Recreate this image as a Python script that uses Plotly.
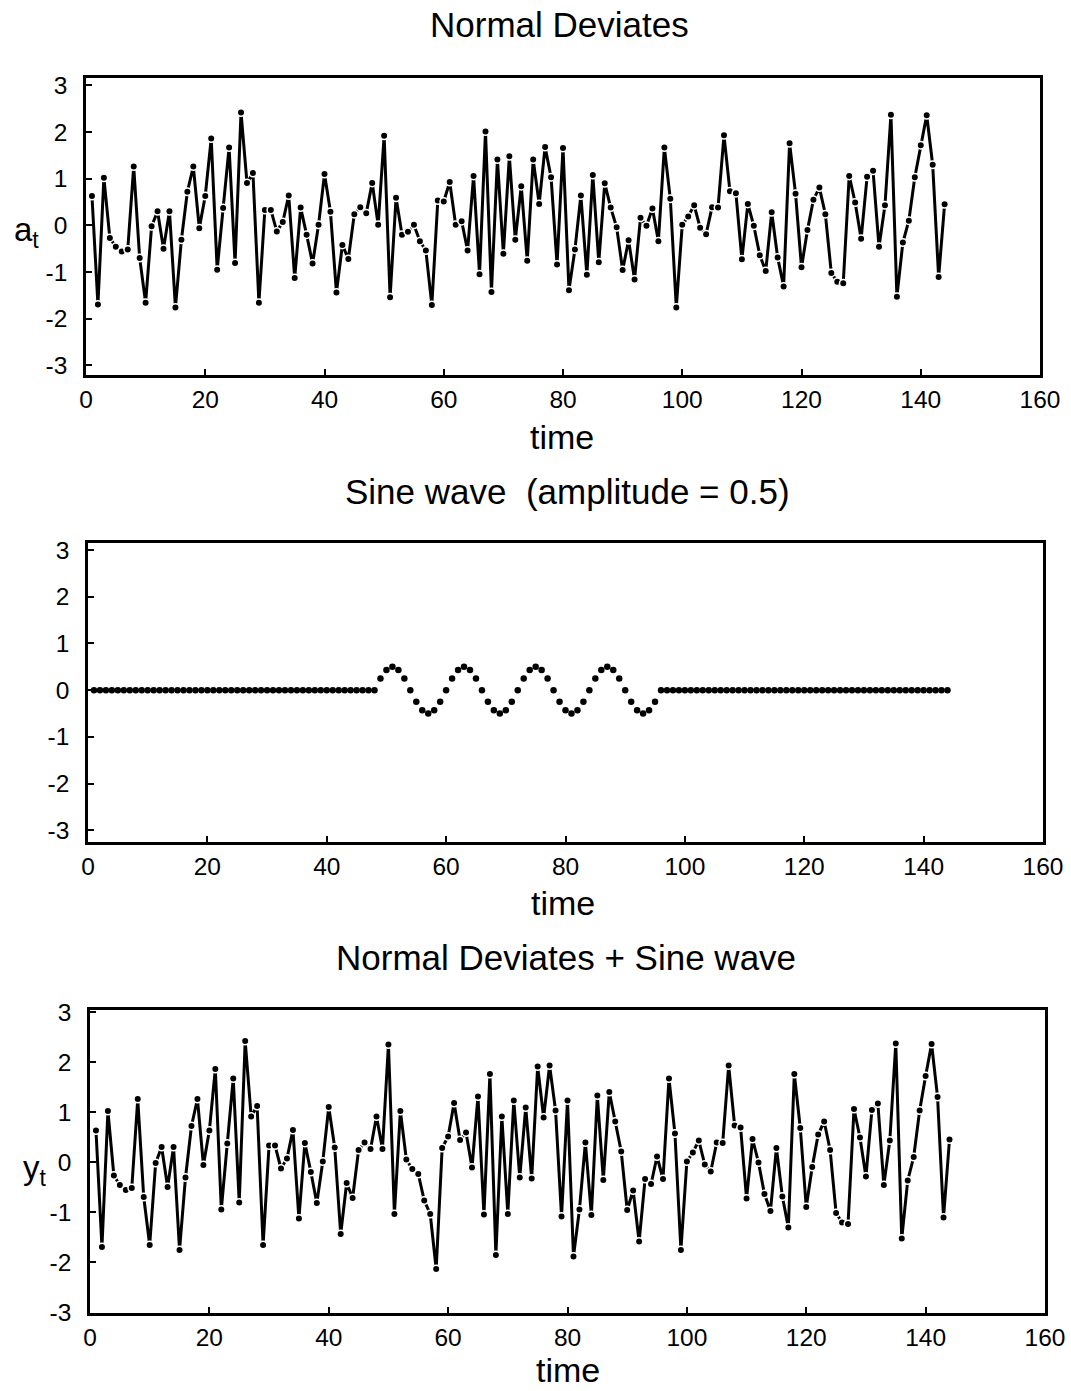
import plotly.graph_objects as go

time = list(range(1, 145))

normal_deviates = [
    0.63, -1.70, 1.02, -0.27, -0.46, -0.56, -0.52, 1.26, -0.70, -1.66,
    -0.02, 0.30, -0.50, 0.30, -1.76, -0.31, 0.72, 1.26, -0.06, 0.63,
    1.86, -0.95, 0.37, 1.67, -0.81, 2.42, 0.91, 1.12, -1.66, 0.33,
    0.33, -0.13, 0.07, 0.64, -1.13, 0.38, -0.20, -0.82, 0.01, 1.10,
    0.29, -1.44, -0.42, -0.72, 0.24, 0.39, 0.26, 0.91, 0.01, 1.92,
    -1.54, 0.59, -0.20, -0.14, 0.01, -0.34, -0.54, -1.71, 0.53, 0.51,
    0.93, 0.01, 0.09, -0.54, 1.06, -1.05, 2.01, -1.43, 1.41, -0.61,
    1.48, -0.31, 0.84, -0.76, 1.41, 0.46, 1.68, 1.03, -0.84, 1.66,
    -1.39, -0.52, 0.64, -1.06, 1.08, -0.79, 0.90, 0.38, -0.04, -0.96,
    -0.32, -1.16, 0.16, -0.01, 0.36, -0.34, 1.67, 0.57, -1.76, 0.01,
    0.19, 0.43, -0.05, -0.19, 0.39, 0.38, 1.93, 0.73, 0.69, -0.73,
    0.46, -0.01, -0.64, -0.98, 0.28, -0.69, -1.31, 1.76, 0.68, -0.90,
    -0.10, 0.55, 0.81, 0.24, -1.02, -1.21, -1.24, 1.06, 0.49, -0.29,
    1.04, 1.17, -0.46, 0.43, 2.37, -1.53, -0.37, 0.10, 1.03, 1.72,
    2.36, 1.30, -1.11, 0.45,
]

sine_wave = [
    0, 0, 0, 0, 0, 0, 0, 0, 0, 0, 0, 0,
    0, 0, 0, 0, 0, 0, 0, 0, 0, 0, 0, 0,
    0, 0, 0, 0, 0, 0, 0, 0, 0, 0, 0, 0,
    0, 0, 0, 0, 0, 0, 0, 0, 0, 0, 0, 0,
    0.25, 0.43, 0.5, 0.43, 0.25, 0, -0.25, -0.43, -0.5, -0.43, -0.25, 0,
    0.25, 0.43, 0.5, 0.43, 0.25, 0, -0.25, -0.43, -0.5, -0.43, -0.25, 0,
    0.25, 0.43, 0.5, 0.43, 0.25, 0, -0.25, -0.43, -0.5, -0.43, -0.25, 0,
    0.25, 0.43, 0.5, 0.43, 0.25, 0, -0.25, -0.43, -0.5, -0.43, -0.25, 0,
    0, 0, 0, 0, 0, 0, 0, 0, 0, 0, 0, 0,
    0, 0, 0, 0, 0, 0, 0, 0, 0, 0, 0, 0,
    0, 0, 0, 0, 0, 0, 0, 0, 0, 0, 0, 0,
    0, 0, 0, 0, 0, 0, 0, 0, 0, 0, 0, 0,
]

combined = [a + s for a, s in zip(normal_deviates, sine_wave)]

panel_titles = ["Normal Deviates", "Sine wave  (amplitude = 0.5)", "Normal Deviates + Sine wave"]
x_tickvals = [0, 20, 40, 60, 80, 100, 120, 140, 160]
x_ticktext = ["0", "20", "40", "60", "80", "100", "120", "140", "160"]
y_tickvals = [-3, -2, -1, 0, 1, 2, 3]
y_ticktext = ["-3", "-2", "-1", "0", "1", "2", "3"]

W, H = 1071, 1391
FONT = "Liberation Sans, Arial, Helvetica, sans-serif"

# panel frames in pixels: (left, right, top, bottom)
frames = [(86, 1040, 78, 375), (88, 1043, 543, 842), (90, 1045, 1010, 1313)]
yranges = [[-3.21, 3.16], [-3.25, 3.15], [-3.02, 3.04]]


def px_x(p):
    return p / W


def px_y(p):
    return 1 - p / H


fig = go.Figure()

marker_common = dict(color="black", size=7.5, line=dict(color="white", width=1.5))

fig.add_trace(go.Scatter(x=time, y=normal_deviates, mode="lines+markers",
                         line=dict(color="black", width=3), marker=marker_common,
                         xaxis="x", yaxis="y", showlegend=False))
fig.add_trace(go.Scatter(x=time, y=sine_wave, mode="markers",
                         marker=dict(color="black", size=6.5),
                         xaxis="x2", yaxis="y2", showlegend=False))
fig.add_trace(go.Scatter(x=time, y=combined, mode="lines+markers",
                         line=dict(color="black", width=3), marker=marker_common,
                         xaxis="x3", yaxis="y3", showlegend=False))

axis_font = dict(family=FONT, size=24.5, color="black")
for i, (l, r, t, b) in enumerate(frames):
    sfx = "" if i == 0 else str(i + 1)
    fig.layout["xaxis" + sfx] = dict(
        domain=[px_x(l), px_x(r)], range=[0, 160], anchor="y" + sfx,
        tickvals=x_tickvals, ticktext=x_ticktext, ticks="inside", ticklen=6,
        tickwidth=2, tickcolor="black", showline=True, linecolor="black",
        linewidth=2.5, mirror=True, showgrid=False, zeroline=False,
        tickfont=axis_font, ticklabelstandoff=1, automargin=False,
    )
    fig.layout["yaxis" + sfx] = dict(
        domain=[px_y(b), px_y(t)], range=yranges[i], anchor="x" + sfx,
        tickvals=y_tickvals, ticktext=y_ticktext, ticks="inside", ticklen=6,
        tickwidth=2, tickcolor="black", showline=True, linecolor="black",
        linewidth=2.5, mirror=True, showgrid=False, zeroline=False,
        tickfont=axis_font, ticklabelstandoff=11, automargin=False,
    )

annotations = []
title_y = [25, 491, 957]
title_x = [559, 567, 566]
for txt, ty, tx in zip(panel_titles, title_y, title_x):
    annotations.append(dict(text=txt, x=px_x(tx), y=px_y(ty), xref="paper", yref="paper",
                            showarrow=False, xanchor="center", yanchor="middle",
                            font=dict(family=FONT, size=35, color="black")))
for ty, tx in zip([437, 903, 1370], [562, 563, 568]):
    annotations.append(dict(text="time", x=px_x(tx), y=px_y(ty), xref="paper", yref="paper",
                            showarrow=False, xanchor="center", yanchor="middle",
                            font=dict(family=FONT, size=34, color="black")))
annotations.append(dict(text="a<sub>t</sub>", x=px_x(26), y=px_y(232), xref="paper", yref="paper",
                        showarrow=False, xanchor="center", yanchor="middle",
                        font=dict(family=FONT, size=33, color="black")))
annotations.append(dict(text="y<sub>t</sub>", x=px_x(35), y=px_y(1170), xref="paper", yref="paper",
                        showarrow=False, xanchor="center", yanchor="middle",
                        font=dict(family=FONT, size=33, color="black")))

fig.update_layout(
    width=W, height=H, margin=dict(l=0, r=0, t=0, b=0, autoexpand=False),
    paper_bgcolor="white", plot_bgcolor="white",
    annotations=annotations, showlegend=False,
)

fig.write_html("out.html", post_script="document.body.style.margin='0';")
